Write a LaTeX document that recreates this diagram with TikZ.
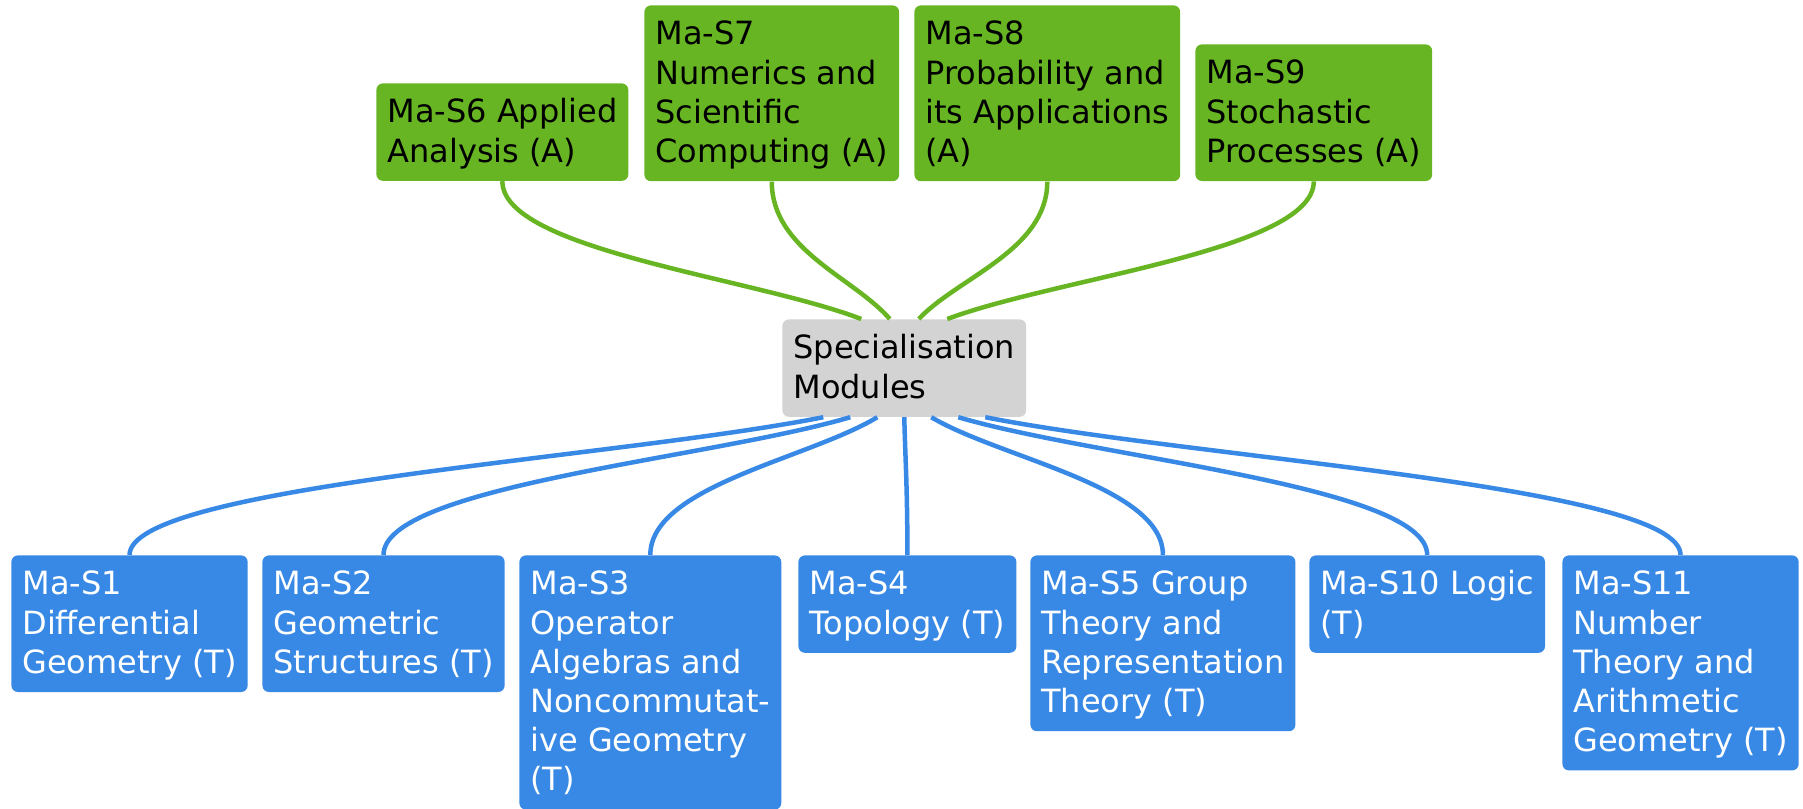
\documentclass[tikz,border=0pt]{standalone}
\usepackage{fontspec}
\setmainfont{DejaVu Sans}
\usetikzlibrary{calc}
\definecolor{modgreen}{HTML}{67B523}
\definecolor{modblue}{HTML}{3889E5}
\definecolor{modgray}{HTML}{D3D3D3}
\newcommand\lstrut{\rule[-4.6pt]{0pt}{19.6pt}}
\newcommand\mtext[1]{\lstrut#1\lstrut}
\begin{document}
\begin{tikzpicture}[
        x=0.5pt, y=-0.5pt,
        font=\fontsize{16}{19.6}\selectfont
    ]
    \tikzset{
        modnode/.style = {rectangle, rounded corners=3.25pt, anchor=north west, align=left,
                          inner xsep=5.5pt, inner ysep=4.75pt},
        modg/.style = {modnode, fill=modgreen, text=black},
        modb/.style = {modnode, fill=modblue, text=white},
        hubnode/.style = {modnode, fill=modgray, text=black},
        link/.style = {to path={.. controls ($(\tikztostart)!0.3!(\tikztotarget)$)
                          and ($(\tikztotarget)!0.5!(\tikztotarget |- \tikztostart)$) .. (\tikztotarget)}},
        edgeg/.style = {line width=2.25pt, modgreen, link},
        edgeb/.style = {line width=2.25pt, modblue, link},
    }
    \useasboundingbox (0,0) rectangle (1803,808);
    %
    \node[hubnode] at (782,319) (hub) {\mtext{Specialisation\\Modules}};
    %
    \node[modg] at (376,83) (s6) {\mtext{Ma-S6 Applied\\Analysis (A)}};
    \node[modg] at (644,5) (s7) {\mtext{Ma-S7\\Numerics and\\Scientific\\Computing (A)}};
    \node[modg] at (914,5) (s8) {\mtext{Ma-S8\\Probability and\\its Applications\\(A)}};
    \node[modg] at (1195,44) (s9) {\mtext{Ma-S9\\Stochastic\\Processes (A)}};
    %
    \node[modb] at (11,555) (s1) {\mtext{Ma-S1\\Differential\\Geometry (T)}};
    \node[modb] at (262,555) (s2) {\mtext{Ma-S2\\Geometric\\Structures (T)}};
    \node[modb] at (519,555) (s3) {\mtext{Ma-S3\\Operator\\Algebras and\\Noncommutat-\\ive Geometry\\(T)}};
    \node[modb] at (798,555) (s4) {\mtext{Ma-S4\\Topology (T)}};
    \node[modb] at (1030,555) (s5) {\mtext{Ma-S5 Group\\Theory and\\Representation\\Theory (T)}};
    \node[modb] at (1309,555) (s10) {\mtext{Ma-S10 Logic\\(T)}};
    \node[modb] at (1562,555) (s11) {\mtext{Ma-S11\\Number\\Theory and\\Arithmetic\\Geometry (T)}};
    %
    \coordinate (g6) at ($(hub.north)+(-43,0)$);
    \coordinate (g7) at ($(hub.north)+(-14.5,0)$);
    \coordinate (g8) at ($(hub.north)+(14.5,0)$);
    \coordinate (g9) at ($(hub.north)+(43,0)$);
    \coordinate (b1) at ($(hub.south)+(-81,0)$);
    \coordinate (b2) at ($(hub.south)+(-54,0)$);
    \coordinate (b3) at ($(hub.south)+(-27,0)$);
    \coordinate (b4) at ($(hub.south)+(0,0)$);
    \coordinate (b5) at ($(hub.south)+(27,0)$);
    \coordinate (b10) at ($(hub.south)+(54,0)$);
    \coordinate (b11) at ($(hub.south)+(81,0)$);
    %
    \draw[edgeg] (g6) to (s6.south);
    \draw[edgeg] (g7) to (s7.south);
    \draw[edgeg] (g8) to (s8.south);
    \draw[edgeg] (g9) to (s9.south);
    %
    \draw[edgeb] (b1) to (s1.north);
    \draw[edgeb] (b2) to (s2.north);
    \draw[edgeb] (b3) to (s3.north);
    \draw[edgeb] (b4) to (s4.north);
    \draw[edgeb] (b5) to (s5.north);
    \draw[edgeb] (b10) to (s10.north);
    \draw[edgeb] (b11) to (s11.north);
\end{tikzpicture}
\end{document}
